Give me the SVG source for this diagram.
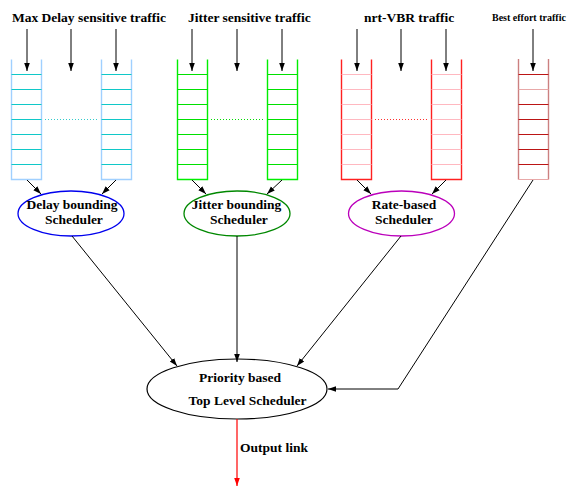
<svg xmlns="http://www.w3.org/2000/svg" xmlns:xlink="http://www.w3.org/1999/xlink" width="569" height="487" viewBox="0 0 569 487">
<style>
text{font-family:"Liberation Serif","Times New Roman",serif;font-weight:bold;fill:#000;}
.t{font-size:13.5px;}
.small{font-size:10px;}
.mid{text-anchor:middle;}
.conn{stroke:#000;stroke-width:1;fill:none;}
.side{fill:none;stroke-width:1.4;}
.rung{fill:none;stroke-width:1.2;}
.dot{fill:none;stroke-width:1;stroke-dasharray:1 2;}
</style>
<defs>
<marker id="ah" viewBox="0 0 10 10" refX="10" refY="5" markerWidth="8" markerHeight="8" markerUnits="userSpaceOnUse" orient="auto">
<path d="M0,1.5 L10,5 L0,8.5 Z" fill="#000"/>
</marker>
<marker id="ahr" viewBox="0 0 10 10" refX="10" refY="5" markerWidth="8" markerHeight="8" markerUnits="userSpaceOnUse" orient="auto">
<path d="M0,1.5 L10,5 L0,8.5 Z" fill="#f00"/>
</marker>
<path id="qside" d="M0,0 V120 H30 V0"/>
<path id="qrung" d="M0,15 H30 M0,30 H30 M0,45 H30 M0,60 H30 M0,75 H30 M0,90 H30 M0,105 H30"/>
</defs>

<g id="title-maxdelay"><text class="t" x="12" y="22">Max Delay sensitive traffic</text></g>
<g id="title-jitter"><text class="t" x="188" y="22">Jitter sensitive traffic</text></g>
<g id="title-nrtvbr"><text class="t" x="364" y="22">nrt-VBR traffic</text></g>
<g id="title-besteffort"><text class="small" x="492" y="21">Best effort traffic</text></g>

<g id="queues-delay">
<use href="#qside" x="11.5" y="59.5" class="side" stroke="#a0d0ff"/>
<use href="#qrung" x="11.5" y="59.5" class="rung" stroke="#10c8c8"/>
<use href="#qside" x="101.5" y="59.5" class="side" stroke="#a0d0ff"/>
<use href="#qrung" x="101.5" y="59.5" class="rung" stroke="#10c8c8"/>
<path class="dot" stroke="#33cccc" d="M45,119.5 H97"/>
</g>
<g id="queues-jitter">
<use href="#qside" x="177.5" y="59.5" class="side" stroke="#00ee00"/>
<use href="#qrung" x="177.5" y="59.5" class="rung" stroke="#00e000"/>
<use href="#qside" x="267.5" y="59.5" class="side" stroke="#00ee00"/>
<use href="#qrung" x="267.5" y="59.5" class="rung" stroke="#00e000"/>
<path class="dot" stroke="#00dd00" d="M211,119.5 H263"/>
</g>
<g id="queues-nrtvbr">
<use href="#qside" x="341.5" y="59.5" class="side" stroke="#ff2020"/>
<use href="#qrung" x="341.5" y="59.5" class="rung" stroke="#ffb8c0"/>
<use href="#qside" x="431.5" y="59.5" class="side" stroke="#ff2020"/>
<use href="#qrung" x="431.5" y="59.5" class="rung" stroke="#ffb8c0"/>
<path class="dot" stroke="#ff3030" d="M375,119.5 H427"/>
</g>
<g id="queue-besteffort">
<path class="side" stroke="#cc8080" stroke-width="1.8" d="M518.5,59 V179.5 M548.5,59 V179.5"/>
<path class="rung" stroke="#e8a8a8" d="M518.5,179.5 H548.5 M518.5,89.5 H548.5"/>
<path class="rung" stroke="#bb1515" d="M518.5,74.5 H548.5 M518.5,104.5 H548.5 M518.5,119.5 H548.5 M518.5,134.5 H548.5 M518.5,149.5 H548.5 M518.5,164.5 H548.5"/>
</g>

<g id="sched-delay">
<ellipse cx="71" cy="213.5" rx="53" ry="22.5" fill="#fff" stroke="#0000ee" stroke-width="1.3"/>
<text class="t mid" x="72" y="209">Delay bounding</text>
<text class="t mid" x="74" y="224">Scheduler</text>
</g>
<g id="sched-jitter">
<ellipse cx="237" cy="213.5" rx="53" ry="22.5" fill="#fff" stroke="#008800" stroke-width="1.3"/>
<text class="t mid" x="236.5" y="209">Jitter bounding</text>
<text class="t mid" x="239" y="224">Scheduler</text>
</g>
<g id="sched-rate">
<ellipse cx="401.5" cy="213.5" rx="53" ry="22.5" fill="#fff" stroke="#bb00bb" stroke-width="1.3"/>
<text class="t mid" x="404" y="209">Rate-based</text>
<text class="t mid" x="404" y="224">Scheduler</text>
</g>
<g id="sched-top">
<ellipse cx="237" cy="389" rx="90" ry="30" fill="#fff" stroke="#000" stroke-width="1.2"/>
<text class="t mid" x="240" y="381.5">Priority based</text>
<text class="t mid" x="247.5" y="404.5">Top Level Scheduler</text>
</g>
<g id="label-output"><text class="t" x="240" y="452">Output link</text></g>

<g id="connectors">
<path class="conn" marker-end="url(#ah)" d="M27,29 V71"/>
<path class="conn" marker-end="url(#ah)" d="M71,29 V71"/>
<path class="conn" marker-end="url(#ah)" d="M116,29 V71"/>
<path class="conn" marker-end="url(#ah)" d="M192,29 V71"/>
<path class="conn" marker-end="url(#ah)" d="M237,29 V71"/>
<path class="conn" marker-end="url(#ah)" d="M282,29 V71"/>
<path class="conn" marker-end="url(#ah)" d="M357,29 V71"/>
<path class="conn" marker-end="url(#ah)" d="M401,29 V71"/>
<path class="conn" marker-end="url(#ah)" d="M446,29 V71"/>
<path class="conn" marker-end="url(#ah)" stroke="#555" d="M533,29 V71"/>
<path class="conn" marker-end="url(#ah)" d="M27,180 L41,194"/>
<path class="conn" marker-end="url(#ah)" d="M116,180 L102,194"/>
<path class="conn" marker-end="url(#ah)" d="M192,180 L206,194"/>
<path class="conn" marker-end="url(#ah)" d="M282,180 L267,194"/>
<path class="conn" marker-end="url(#ah)" d="M357,180 L371,194"/>
<path class="conn" marker-end="url(#ah)" d="M446,180 L432,194"/>
<path class="conn" marker-end="url(#ah)" d="M72,236 L177,366"/>
<path class="conn" marker-end="url(#ah)" d="M237,236 V362"/>
<path class="conn" marker-end="url(#ah)" d="M401,236 L297,366"/>
<path class="conn" marker-end="url(#ah)" d="M533,180 L398,389 H328"/>
<path fill="none" stroke="#f00" stroke-width="1.2" marker-end="url(#ahr)" d="M237,419 V486"/>
</g>
</svg>
